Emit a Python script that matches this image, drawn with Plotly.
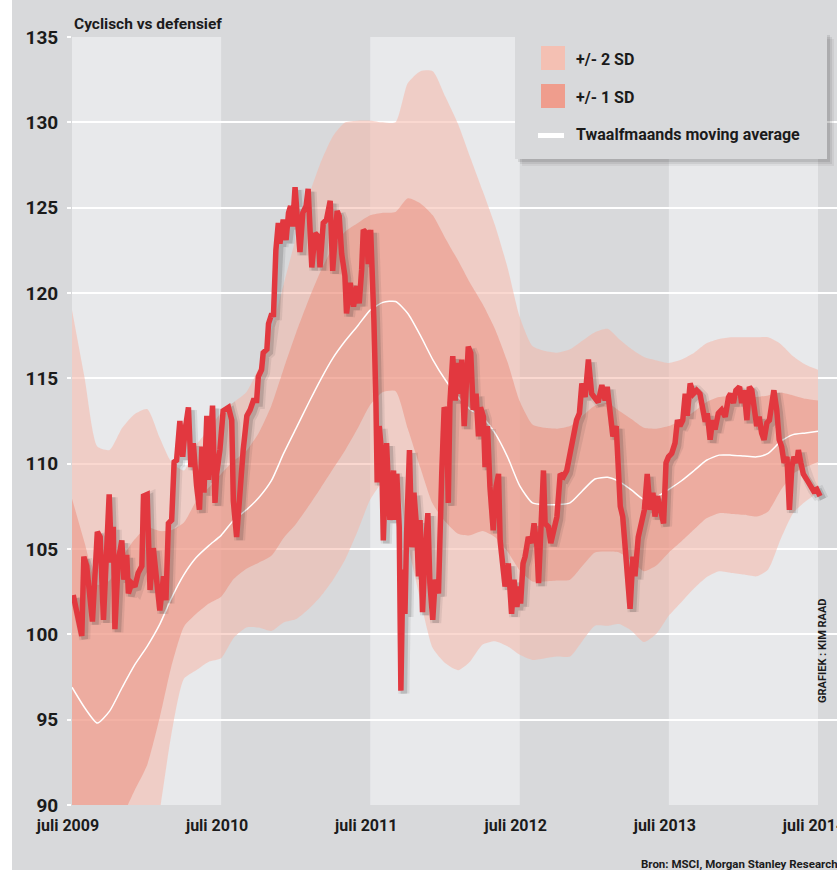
import pandas as pd
import plotly.graph_objects as go

# ---------------- data ----------------
# red line: cyclical vs defensive ratio, observation day = days after 1 July 2009
ratio_days = [
    3, 24, 29, 36, 50, 62, 69, 77, 91, 97,
    101, 105, 113, 122, 127, 134, 138, 146, 154, 162,
    171, 175, 184, 191, 199, 207, 215, 224, 230, 236,
    244, 250, 256, 264, 271, 277, 285, 291, 297, 305,
    312, 318, 323, 330, 334, 344, 350, 354, 362, 370,
    383, 391, 395, 403, 411, 419, 428, 436, 444, 452,
    456, 464, 468, 477, 481, 489, 493, 499, 505, 509,
    517, 524, 530, 535, 540, 546, 552, 558, 565, 573,
    578, 584, 587, 595, 603, 607, 615, 623, 632, 638,
    644, 649, 654, 660, 668, 672, 681, 689, 697, 703,
    709, 713, 721, 725, 731, 736, 739, 744, 747, 752,
    758, 762, 770, 778, 787, 791, 795, 801, 805, 810,
    815, 819, 826, 832, 837, 844, 848, 852, 858, 864,
    871, 876, 883, 889, 897, 905, 911, 917, 921, 925,
    932, 938, 943, 950, 954, 960, 965, 970, 976, 982,
    989, 995, 1000, 1007, 1011, 1017, 1023, 1031, 1038, 1044,
    1048, 1054, 1060, 1068, 1076, 1082, 1089, 1095, 1098, 1104,
    1109, 1117, 1125, 1131, 1138, 1142, 1147, 1154, 1158, 1166,
    1172, 1178, 1187, 1195, 1203, 1211, 1217, 1223, 1229, 1235,
    1242, 1248, 1256, 1264, 1272, 1280, 1288, 1297, 1305, 1310,
    1317, 1324, 1332, 1337, 1342, 1348, 1354, 1359, 1366, 1373,
    1378, 1386, 1395, 1401, 1408, 1415, 1422, 1427, 1433, 1441,
    1448, 1454, 1460, 1468, 1476, 1482, 1488, 1495, 1501, 1506,
    1513, 1521, 1529, 1537, 1544, 1550, 1555, 1562, 1568, 1574,
    1582, 1590, 1599, 1607, 1612, 1619, 1625, 1634, 1639, 1645,
    1652, 1658, 1664, 1670, 1676, 1682, 1688, 1694, 1701, 1707,
    1713, 1718, 1725, 1731, 1737, 1743, 1750, 1756, 1762, 1767,
    1774, 1778, 1784, 1790, 1799, 1807, 1815, 1823, 1831,
]
ratio_values = [
    102.3, 99.9, 104.55, 104.0, 100.75, 106.0, 105.7, 100.85, 108.2, 104.2,
    106.3, 100.3, 104.3, 105.5, 103.2, 104.65, 102.4, 103.0, 102.8, 103.6,
    104.0, 108.1, 108.2, 102.6, 105.05, 103.2, 101.4, 103.4, 102.0, 106.5,
    106.7, 110.1, 110.2, 112.5, 110.4, 112.0, 113.3, 109.8, 111.2, 108.7,
    107.3, 111.0, 108.3, 112.8, 109.05, 113.4, 107.7, 109.4, 110.8, 113.1,
    113.3, 112.55, 107.8, 105.7, 108.7, 110.8, 112.8, 113.15, 113.7, 113.7,
    115.1, 115.5, 116.5, 116.7, 118.2, 118.8, 118.6, 122.5, 124.1, 122.9,
    124.3, 123.1, 124.7, 125.1, 123.9, 126.2, 124.3, 122.4, 124.7, 125.1,
    126.1, 123.3, 121.5, 123.5, 123.3, 121.5, 124.1, 124.3, 125.4, 121.3,
    122.9, 124.8, 124.5, 122.3, 121.0, 118.8, 120.6, 119.2, 120.4, 119.4,
    121.35, 123.7, 123.5, 121.7, 123.7, 121.35, 118.4, 113.55, 108.9, 112.2,
    110.6, 105.5, 111.2, 106.7, 109.6, 106.7, 109.4, 106.3, 96.7, 103.8,
    101.2, 105.9, 110.8, 105.1, 108.3, 106.1, 103.4, 106.7, 101.3, 104.7,
    107.1, 103.0, 100.85, 103.2, 102.4, 109.4, 113.3, 112.95, 107.7, 113.55,
    116.3, 113.7, 115.9, 114.1, 116.1, 112.2, 114.5, 116.85, 116.5, 113.15,
    114.1, 111.6, 113.3, 112.75, 109.8, 112.2, 108.65, 106.1, 108.65, 109.4,
    105.5, 104.35, 102.8, 104.15, 101.2, 103.2, 101.6, 102.8, 101.8, 104.15,
    104.55, 105.7, 105.35, 106.5, 105.15, 103.0, 106.1, 109.6, 106.5, 106.3,
    105.35, 106.1, 106.9, 109.4, 109.25, 109.6, 110.4, 111.0, 112.0, 112.55,
    112.95, 114.7, 113.9, 116.1, 114.1, 113.9, 113.6, 114.6, 113.7, 114.5,
    113.15, 111.6, 112.2, 110.05, 107.5, 106.9, 105.35, 104.15, 101.5, 104.55,
    103.4, 105.7, 106.5, 107.3, 109.4, 107.3, 108.3, 106.9, 108.1, 107.3,
    106.5, 110.05, 110.4, 110.6, 111.2, 112.55, 112.2, 112.55, 114.1, 112.8,
    114.7, 114.1, 114.3, 114.1, 113.35, 112.45, 112.95, 111.4, 112.55, 112.0,
    112.95, 113.15, 112.75, 113.9, 114.1, 113.55, 114.3, 114.5, 113.55, 114.3,
    112.55, 114.5, 114.3, 112.95, 112.2, 112.75, 111.8, 111.4, 112.4, 112.55,
    113.35, 114.3, 113.15, 111.4, 111.0, 110.05, 110.4, 107.3, 109.8, 110.4,
    110.05, 110.8, 110.05, 109.4, 109.05, 108.65, 108.4, 108.5, 108.1,
]

# monthly band data (July 2009 .. July 2014)
moving_avg = [
    96.9, 95.7, 94.8, 95.5, 96.9, 98.2, 99.3, 100.6, 102.1, 103.5,
    104.5, 105.2, 105.8, 106.7, 107.3, 108.0, 109.0, 110.6, 112.1, 113.6,
    114.9, 116.2, 117.2, 118.1, 119.0, 119.45, 119.5, 118.8, 117.5, 116.1,
    114.9, 113.9, 113.2, 112.7, 111.8, 110.4, 108.7, 107.7, 107.6, 107.6,
    107.7, 108.4, 109.1, 109.2, 108.95, 108.45, 107.9, 108.05, 108.5, 109.0,
    109.6, 110.2, 110.5, 110.5, 110.45, 110.4, 110.6, 111.3, 111.7, 111.8, 111.9,
]
upper_2sd = [
    119.0, 115.0, 111.0, 110.8, 112.1, 112.9, 113.2, 111.5, 110.1, 109.6,
    111.1, 112.0, 113.0, 113.6, 114.2, 115.6, 117.8, 120.5, 123.3, 125.7,
    127.6, 129.2, 130.0, 130.1, 130.1, 130.0, 130.0, 132.3, 133.0, 133.0,
    131.5, 129.9, 128.0, 126.0, 124.0, 121.5, 118.6, 116.9, 116.6, 116.5,
    116.7, 117.2, 117.7, 117.9, 117.3, 116.7, 116.25, 116.05, 115.9, 116.1,
    116.5, 117.05, 117.3, 117.4, 117.4, 117.4, 117.4, 117.0, 116.3, 115.8, 115.5,
]
upper_1sd = [
    107.95, 105.35, 102.9, 103.15, 104.5, 105.55, 106.25, 106.05, 106.1, 106.55,
    107.8, 108.6, 109.4, 110.15, 110.75, 111.8, 113.4, 115.55, 117.7, 119.65,
    121.25, 122.7, 123.6, 124.1, 124.55, 124.7, 124.75, 125.55, 125.25, 124.55,
    123.2, 121.9, 120.6, 119.35, 117.9, 115.95, 113.65, 112.3, 112.1, 112.05,
    112.2, 112.8, 113.4, 113.55, 113.1, 112.6, 112.1, 112.05, 112.2, 112.55,
    113.05, 113.6, 113.9, 113.95, 113.9, 113.9, 114.0, 114.15, 114.0, 113.8, 113.7,
]
lower_1sd = [
    85.85, 86.05, 86.7, 87.85, 89.3, 90.85, 92.35, 95.15, 98.1, 100.45,
    101.2, 101.8, 102.2, 103.25, 103.85, 104.2, 104.6, 105.65, 106.5, 107.55,
    108.55, 109.7, 110.8, 112.1, 113.45, 114.2, 114.25, 112.05, 109.75, 107.65,
    106.6, 105.9, 105.8, 106.05, 105.7, 104.85, 103.75, 103.1, 103.1, 103.15,
    103.2, 104.0, 104.8, 104.85, 104.8, 104.3, 103.7, 104.05, 104.8, 105.45,
    106.15, 106.8, 107.1, 107.05, 107.0, 106.9, 107.2, 108.45, 109.4, 109.8, 110.1,
]
lower_2sd = [
    74.8, 76.4, 78.6, 80.2, 81.7, 83.5, 85.4, 89.7, 94.1, 97.4,
    97.9, 98.4, 98.6, 99.8, 100.4, 100.4, 100.2, 100.7, 100.9, 101.5,
    102.2, 103.2, 104.4, 106.1, 107.9, 108.9, 109.0, 105.3, 102.0, 99.2,
    98.3, 97.9, 98.4, 99.4, 99.6, 99.3, 98.8, 98.5, 98.6, 98.7,
    98.7, 99.6, 100.5, 100.5, 100.6, 100.2, 99.55, 100.05, 101.1, 101.9,
    102.7, 103.35, 103.7, 103.6, 103.5, 103.4, 103.8, 105.6, 107.1, 107.8, 108.3,
]

tick_dates = ["2009-07-01", "2010-07-01", "2011-07-01", "2012-07-01", "2013-07-01", "2014-07-01"]
tick_labels = ["juli 2009", "juli 2010", "juli 2011", "juli 2012", "juli 2013", "juli 2014"]
y_ticks = [90, 95, 100, 105, 110, 115, 120, 125, 130, 135]

# ---------------- layout constants ----------------
W, H = 837, 870
ML, MR, MT, MB = 72, 0, 37, 65
PW, PH = W - ML - MR, H - MT - MB
Y0, Y1 = 90, 135

start = pd.Timestamp("2009-07-01")
end_tick = pd.Timestamp("2014-07-01")
days_per_px = (end_tick - start).days / 746.0
x_end = start + pd.Timedelta(days=PW * days_per_px)

ratio_dates = start + pd.to_timedelta(ratio_days, unit="D")
band_dates = pd.date_range("2009-07-01", "2014-07-01", freq="MS")

FONT = "Roboto, Liberation Sans Narrow, sans-serif"
DARK = "#1b1b1b"
BG_DARK = "#d8d9db"
BG_LIGHT = "#e8e9eb"
RED = "#e2383f"
C2 = "rgba(245,180,165,0.52)"
C1 = "rgba(236,140,122,0.50)"

def px_x(p):
    return (p - ML) / PW

def px_y(p):
    return (H - MB - p) / PH

fig = go.Figure()

spl = dict(width=0, shape="spline", smoothing=0.6)
# bands
fig.add_trace(go.Scatter(x=band_dates, y=lower_2sd, mode="lines", line=spl, hoverinfo="skip", showlegend=False))
fig.add_trace(go.Scatter(x=band_dates, y=upper_2sd, mode="lines", line=spl, fill="tonexty", fillcolor=C2,
                         name="+/- 2 SD", showlegend=False))
fig.add_trace(go.Scatter(x=band_dates, y=lower_1sd, mode="lines", line=spl, hoverinfo="skip", showlegend=False))
fig.add_trace(go.Scatter(x=band_dates, y=upper_1sd, mode="lines", line=spl, fill="tonexty", fillcolor=C1,
                         name="+/- 1 SD", showlegend=False))
fig.add_trace(go.Scatter(x=band_dates, y=moving_avg, mode="lines",
                         line=dict(color="white", width=1.5, shape="spline", smoothing=0.6),
                         name="Twaalfmaands moving average", showlegend=False))

# drop shadow of the red line (same data on overlay axes shifted by a few px)
fig.add_trace(go.Scatter(x=ratio_dates, y=ratio_values, mode="lines", xaxis="x2", yaxis="y2",
                         line=dict(color="rgba(40,40,40,0.09)", width=11), hoverinfo="skip", showlegend=False))
fig.add_trace(go.Scatter(x=ratio_dates, y=ratio_values, mode="lines", xaxis="x2", yaxis="y2",
                         line=dict(color="rgba(40,40,40,0.16)", width=6.5), hoverinfo="skip", showlegend=False))
# red line
fig.add_trace(go.Scatter(x=ratio_dates, y=ratio_values, mode="lines", xaxis="x3", yaxis="y3",
                         line=dict(color=RED, width=5.5, shape="linear"), name="Cyclisch vs defensief",
                         showlegend=False))

shift_px = 3
dx = pd.Timedelta(days=shift_px * days_per_px)
dy = shift_px * (Y1 - Y0) / PH

shapes = []
for a, b in [("2009-07-01", "2010-07-01"), ("2011-07-01", "2012-07-01"), ("2013-07-01", "2014-07-01")]:
    shapes.append(dict(type="rect", xref="x", yref="paper", x0=a, x1=b, y0=0, y1=1,
                       fillcolor=BG_LIGHT, line=dict(width=0), layer="below"))
# white strip at far left
shapes.append(dict(type="rect", xref="paper", yref="paper", x0=px_x(0), x1=px_x(12),
                   y0=px_y(H), y1=px_y(0), fillcolor="white", line=dict(width=0), layer="above"))

# legend box with soft shadow
lx0, lx1, ly0, ly1 = 515, 827, 32, 159
for off, al in [(7, 0.05), (5, 0.07), (3, 0.09)]:
    shapes.append(dict(type="rect", xref="paper", yref="paper",
                       x0=px_x(lx0 + off), x1=px_x(lx1 + off), y0=px_y(ly1 + off), y1=px_y(ly0 + off),
                       fillcolor=f"rgba(0,0,0,{al})", line=dict(width=0), layer="above"))
shapes.append(dict(type="rect", xref="paper", yref="paper", x0=px_x(lx0), x1=px_x(lx1),
                   y0=px_y(ly1), y1=px_y(ly0), fillcolor=BG_DARK, line=dict(width=0), layer="above"))
shapes.append(dict(type="rect", xref="paper", yref="paper", x0=px_x(541), x1=px_x(565),
                   y0=px_y(70), y1=px_y(46), fillcolor="#f4c0b3", line=dict(width=0), layer="above"))
shapes.append(dict(type="rect", xref="paper", yref="paper", x0=px_x(541), x1=px_x(565),
                   y0=px_y(108), y1=px_y(84), fillcolor="#ef9d8d", line=dict(width=0), layer="above"))
shapes.append(dict(type="line", xref="paper", yref="paper", x0=px_x(538), x1=px_x(564),
                   y0=px_y(135.5), y1=px_y(135.5), line=dict(color="white", width=5), layer="above"))

def ann(text, x, y, size, **kw):
    d = dict(text=f"<b>{text}</b>", xref="paper", yref="paper", x=px_x(x), y=px_y(y),
             xanchor="left", yanchor="middle", showarrow=False, font=dict(family=FONT, size=size, color=DARK))
    d.update(kw)
    return d

annotations = [
    ann("Cyclisch vs defensief", 72, 24, 15.5),
    ann("+/- 2 SD", 574, 59, 16),
    ann("+/- 1 SD", 574, 97, 16),
    ann("Twaalfmaands moving average", 574, 134, 16),
    ann("GRAFIEK : KIM RAAD", 822, 651, 11, xanchor="center", textangle=-90),
    ann("Bron: MSCI, Morgan Stanley Research", 639, 864, 11.5),
]

fig.update_layout(
    width=W, height=H,
    margin=dict(l=ML, r=MR, t=MT, b=MB, pad=0, autoexpand=False),
    paper_bgcolor=BG_DARK, plot_bgcolor=BG_DARK,
    showlegend=False,
    shapes=shapes, annotations=annotations,
    xaxis=dict(type="date", range=[start, x_end], tickvals=tick_dates, ticktext=tick_labels,
               showgrid=False, zeroline=False, showline=False, ticks="", automargin=False,
               ticklabeloverflow="allow", ticklabelshift=-4,
               tickfont=dict(family=FONT, size=16, color=DARK, weight="bold"), ticklabelstandoff=9),
    yaxis=dict(range=[Y0, Y1], tickvals=y_ticks, showgrid=True, gridcolor="white", gridwidth=2,
               zeroline=False, showline=False, ticks="outside", ticklen=4, tickcolor="white", tickwidth=2,
               automargin=False,
               tickfont=dict(family=FONT, size=19, color=DARK, weight="bold"), ticklabelstandoff=5),
    xaxis2=dict(type="date", overlaying="x", range=[start - dx, x_end - dx], visible=False),
    yaxis2=dict(overlaying="y", range=[Y0 + dy, Y1 + dy], visible=False),
    xaxis3=dict(type="date", overlaying="x", range=[start, x_end], visible=False),
    yaxis3=dict(overlaying="y", range=[Y0, Y1], visible=False),
)

fig.write_html("out.html", config={"displayModeBar": False},
               post_script="document.body.style.margin='0px';")
